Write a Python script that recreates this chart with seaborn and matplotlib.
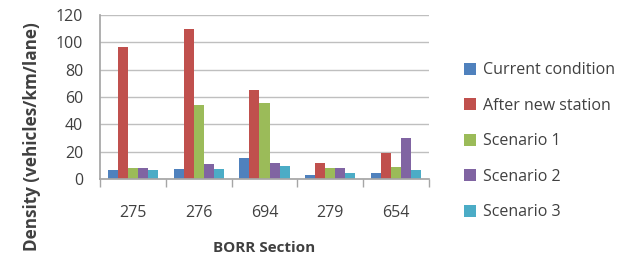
import matplotlib
matplotlib.use("Agg")
import matplotlib.pyplot as plt
import seaborn as sns
import pandas as pd
from matplotlib.patches import Patch

sections = ["275", "276", "694", "279", "654"]
series_names = ["Current condition", "After new station", "Scenario 1", "Scenario 2", "Scenario 3"]
current = [6.6, 7.3, 15.6, 3.1, 4.6]
after_new = [96.8, 109.5, 64.8, 11.4, 19.2]
scenario1 = [7.8, 54.4, 55.6, 8.0, 8.8]
scenario2 = [7.8, 11.0, 11.4, 8.0, 29.7]
scenario3 = [6.4, 7.3, 9.5, 4.6, 6.6]
colors = ["#4F81BD", "#C0504D", "#9BBB59", "#8064A2", "#4BACC6"]

rows = []
for name, vals in zip(series_names, [current, after_new, scenario1, scenario2, scenario3]):
    for s, v in zip(sections, vals):
        rows.append({"Section": s, "Series": name, "Density": v})
df = pd.DataFrame(rows)

sns.set_theme(style="white")
plt.rcParams["font.family"] = ["Open Sans", "DejaVu Sans"]

fig = plt.figure(figsize=(6.3, 2.68), dpi=100)
ax = fig.add_axes([100/630, 1 - 179/268, 329/630, 164/268])

sns.barplot(data=df, x="Section", y="Density", hue="Series", order=sections,
            hue_order=series_names, palette=colors, width=0.76, saturation=1,
            edgecolor="none", linewidth=0, ax=ax, legend=False)

ax.set_ylim(0, 120)
ax.set_yticks(range(0, 121, 20))
ax.set_xlim(-0.5, len(sections) - 0.5)
ax.yaxis.grid(True, color="#BFBFBF", linewidth=1.0)
ax.set_axisbelow(True)
for side in ["top", "right"]:
    ax.spines[side].set_visible(False)
ax.spines["left"].set_color("#A6A6A6")
ax.spines["bottom"].set_color("#A6A6A6")
ax.tick_params(axis="y", length=0, labelsize=11.5, labelcolor="#404040", pad=12)
ax.tick_params(axis="x", length=0, labelsize=11.5, labelcolor="#404040", pad=19)
# category boundary tick marks
ax.set_xticks([i - 0.5 for i in range(len(sections) + 1)], minor=True)
ax.tick_params(axis="x", which="minor", length=6, color="#A6A6A6", width=1, bottom=True)
ax.set_xlabel("BORR Section", fontsize=11, fontweight="bold", color="#404040", labelpad=14)
ax.set_ylabel("Density (vehicles/km/lane)", fontsize=12.3, fontweight="bold", color="#404040")
ax.yaxis.set_label_coords(-0.18, 0.26)

handles = [Patch(facecolor=c, edgecolor="none") for c in colors]
leg = fig.legend(handles, series_names, loc="upper left", bbox_to_anchor=(458/630, 1 - 56/268),
                 frameon=False, fontsize=11.5, handlelength=0.75, handleheight=0.75,
                 labelspacing=1.22, handletextpad=0.4, borderaxespad=0)
for t in leg.get_texts():
    t.set_color("#404040")

fig.savefig("out.png", dpi=100)
